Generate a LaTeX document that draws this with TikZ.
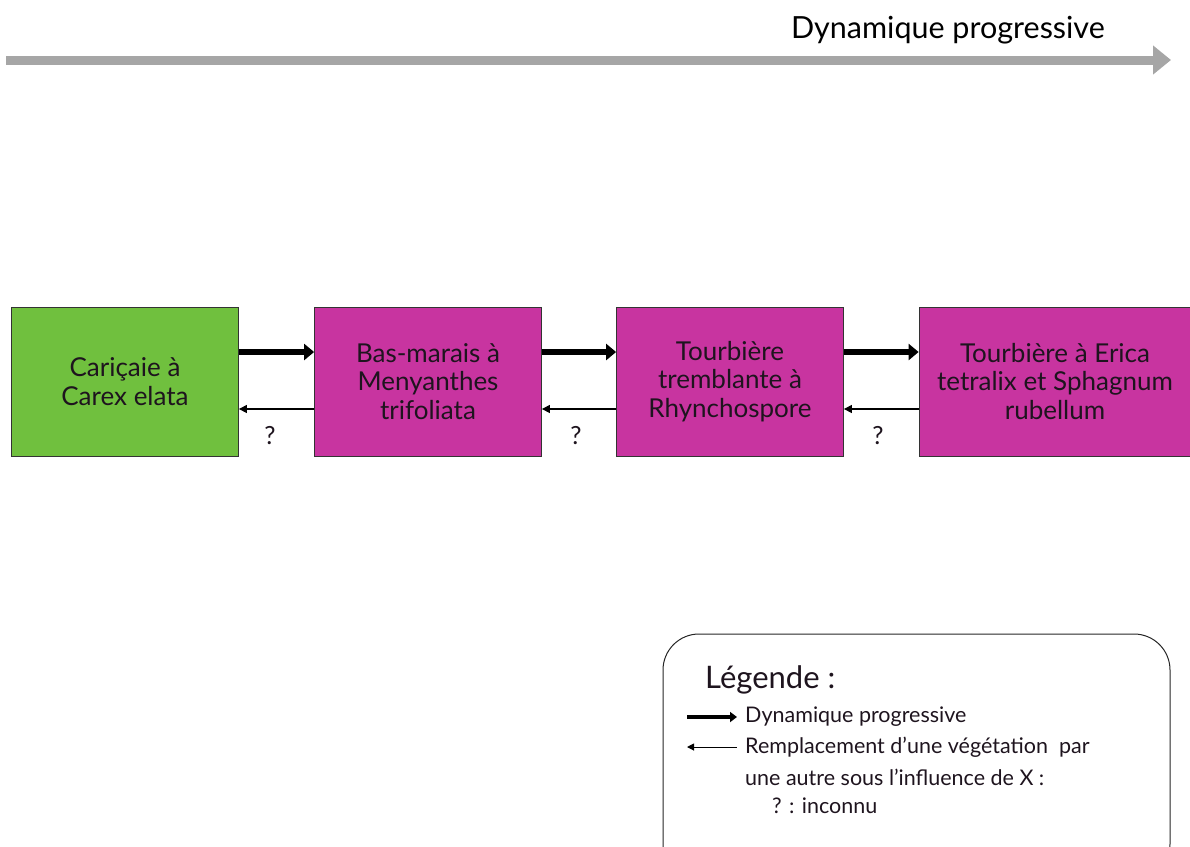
\documentclass[tikz,border=0pt]{standalone}
\usepackage{fontspec}
\setmainfont{Lato}
\usetikzlibrary{arrows.meta}
\definecolor{grn}{RGB}{112,192,62}
\definecolor{mag}{RGB}{200,52,160}
\definecolor{arrgray}{RGB}{166,166,166}
\definecolor{txt}{RGB}{30,20,30}
\begin{document}
\begin{tikzpicture}[x=1pt,y=-1pt,
  stage/.style={draw=black!80,line width=0.8pt,minimum width=227pt,minimum height=149pt,align=center,text=txt,font=\fontsize{26}{28.5}\selectfont,inner sep=0pt},
  prog/.style={line width=6.5pt,-{Triangle[length=10pt,width=16pt]}},
  repl/.style={line width=1.2pt,{Triangle[length=8pt,width=8pt]}-},
  qm/.style={font=\fontsize{25}{26}\selectfont,text=txt},
  leg/.style={anchor=west,font=\fontsize{21.5}{24}\selectfont,text=txt,inner sep=0pt}]
\useasboundingbox (0,0) rectangle (1190,846);
\clip (0,0) rectangle (1190,846);
% top arrow
\coordinate (ts) at (6,60);
\coordinate (te) at (1171,60);
\draw[arrgray,line width=9pt,-{Triangle[length=18pt,width=28pt]}] (ts) -- (te);
\node[anchor=east,font=\fontsize{30.5}{32}\selectfont,inner sep=0pt] (tlab) at (1105,30) {Dynamique progressive};
% boxes
\node[stage,fill=grn] (b1) at (125,381.5) {Cariçaie à\\Carex elata};
\node[stage,fill=mag] (b2) at (428,381.5) {Bas-marais à\\Menyanthes\\trifoliata};
\node[stage,fill=mag] (b3) at (730,381.5) {Tourbière\\tremblante à\\Rhynchospore};
\node[stage,fill=mag,minimum width=272pt] (b4) at (1055,381.5) {Tourbière à Erica\\tetralix et Sphagnum\\rubellum};
% arrows
\draw[prog] (b1.east|-0,352) -- (b2.west|-0,352);
\draw[prog] (b2.east|-0,352) -- (b3.west|-0,352);
\draw[prog] (b3.east|-0,352) -- (b4.west|-0,352);
\draw[repl] (b1.east|-0,409) -- (b2.west|-0,409);
\draw[repl] (b2.east|-0,409) -- (b3.west|-0,409);
\draw[repl] (b3.east|-0,409) -- (b4.west|-0,409);
\node[qm] (q1) at (270,436) {?};
\node[qm] (q2) at (576,436) {?};
\node[qm] (q3) at (878,436) {?};
% legend
\draw[black!85,line width=1pt,rounded corners=36pt] (663,634) rectangle (1170,880);
\node[anchor=west,font=\fontsize{31}{33}\selectfont,text=txt,inner sep=0pt] (lt) at (705,680) {Légende :};
\coordinate (l1a) at (687,717);
\coordinate (l1b) at (737,717);
\draw[line width=3.5pt,-{Triangle[length=7pt,width=10pt]}] (l1a) -- (l1b);
\node[leg] (lp) at (745,717) {Dynamique progressive};
\coordinate (l2a) at (687,747);
\coordinate (l2b) at (737,747);
\draw[line width=1pt,{Triangle[length=7pt,width=7pt]}-] (l2a) -- (l2b);
\node[leg] (lr) at (745,747) {Remplacement d’une végétation\ \ par};
\node[leg] (lr2) at (745,777) {une autre sous l’influence de X :};
\node[leg] (li) at (772,806) {? : inconnu};
\end{tikzpicture}
\end{document}
